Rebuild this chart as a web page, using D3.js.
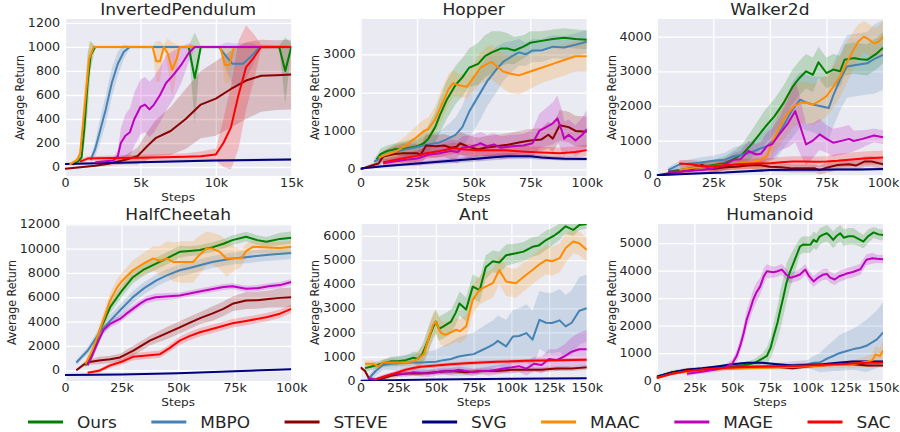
<!DOCTYPE html>
<html>
<head>
<meta charset="utf-8">
<script src="https://cdnjs.cloudflare.com/ajax/libs/d3/7.8.5/d3.min.js"></script>
<style>
  body { margin: 0; background: #fff; }
  text { font-family: "DejaVu Sans", sans-serif; fill: #262626; }
</style>
</head>
<body>
<script>
// methods, in legend order
var methods = ["Ours", "MBPO", "STEVE", "SVG", "MAAC", "MAGE", "SAC"];
var colors = ["#008000", "#4682b4", "#8b0000", "#000080", "#ff8c00", "#bf00bf", "#ff0000"];

// each series: [steps (k), mean return, spread]
// --- InvertedPendulum
var pendOurs = [[0.5,20,10],[0.9,50,20],[1.1,80,30],[1.3,350,150],[1.5,700,250],[1.7,930,120],[2.0,1000,10],[8.2,1000,10],[8.6,740,380],[9.0,1000,10],[14.2,1000,10],[14.6,800,280],[15,1000,30]];
var pendMbpo = [[1.7,60,20],[2.0,150,60],[2.3,290,100],[2.7,480,120],[3.1,700,120],[3.5,860,100],[3.9,960,60],[4.3,1000,10],[10.2,1000,10],[10.7,920,120],[11.1,860,170],[11.8,860,170],[12.4,930,100],[12.9,1000,10],[15,1000,10]];
var pendSteve = [[0,-15,5],[2,10,10],[3,30,20],[4,60,40],[4.8,90,70],[5.5,180,120],[6,240,150],[7,300,200],[8,400,250],[9,520,280],[10,570,310],[11,650,320],[12,720,320],[13,760,300],[14,765,290],[15,770,290]];
var pendSvg = [[0,25,8],[5,40,8],[10,55,10],[15,62,10]];
var pendMaac = [[0.3,20,10],[0.8,60,20],[1.0,110,40],[1.3,500,200],[1.6,900,150],[1.9,1000,10],[5.8,1000,10],[6.05,880,170],[6.3,880,170],[6.55,1000,20],[6.8,950,120],[7.1,810,230],[7.4,900,120],[7.6,1000,10],[10.3,1000,10],[10.6,850,150],[10.9,850,150],[11.2,1000,10],[15,1000,10]];
var pendMage = [[2.0,40,10],[3.2,55,20],[3.5,90,50],[3.7,200,120],[4.0,260,180],[4.3,290,200],[4.6,400,220],[5.0,500,230],[5.3,520,230],[5.6,480,230],[5.9,520,230],[6.3,600,230],[6.7,700,230],[7.2,770,200],[7.7,850,150],[8.2,950,80],[8.6,1000,10],[15,1000,10]];
var pendSac = [[1.0,45,20],[1.5,70,20],[3,75,20],[5,78,25],[8,85,30],[9,90,40],[10,105,50],[10.5,200,200],[11,330,350],[11.5,600,450],[12,830,350],[12.5,910,200],[13,1000,20],[15,1000,10]];

// --- Hopper
var hopOurs = [[7,250,100],[9,400,150],[12,480,150],[15,520,150],[20,540,200],[25,600,250],[28,680,300],[30,800,350],[33,1100,400],[35,1400,450],[38,1800,500],[42,2200,500],[45,2400,500],[48,2650,500],[52,2750,550],[55,2950,550],[58,3050,550],[62,3150,450],[65,3150,400],[68,3100,350],[72,3200,300],[75,3300,300],[80,3350,250],[85,3400,250],[90,3430,250],[95,3400,250],[100,3380,250]];
var hopMbpo = [[6,200,100],[10,330,150],[15,450,200],[20,520,200],[25,580,200],[30,650,250],[35,700,300],[38,780,350],[42,900,450],[45,1100,550],[48,1500,650],[50,1700,700],[53,2000,700],[56,2300,650],[60,2600,600],[63,2800,500],[67,2950,400],[70,3050,350],[73,3000,300],[76,3100,300],[80,3100,300],[85,3200,300],[90,3180,300],[95,3250,300],[100,3330,300]];
var hopSteve = [[0,0,20],[5,100,50],[8,150,100],[10,330,150],[15,400,200],[19,420,250],[25,420,250],[26.5,370,250],[29,620,300],[33,600,300],[37,620,300],[40,560,300],[42.5,590,300],[44,680,300],[48,580,300],[52,520,300],[55,560,300],[60,600,300],[65,640,300],[70,700,300],[75,750,300],[80,780,300],[83,900,350],[85,800,350],[88,1150,400],[92,1100,400],[95,1000,400],[100,980,400]];
var hopSvg = [[0,20,20],[10,80,30],[25,150,40],[40,220,60],[50,270,70],[60,320,80],[65,340,80],[75,340,70],[80,310,60],[85,290,50],[90,275,50],[100,270,50]];
var hopMaac = [[8,300,100],[10,350,120],[15,450,200],[20,620,250],[25,850,300],[28,1000,300],[30,1050,300],[33,1300,350],[36,1700,400],[39,2100,400],[41,2250,350],[43,2200,300],[47,2150,300],[50,2400,350],[53,2650,400],[56,2750,450],[58,2800,450],[60,2700,450],[63,2550,450],[66,2500,500],[70,2450,500],[75,2550,450],[80,2650,400],[85,2750,400],[90,2850,400],[95,2950,400],[100,2950,400]];
var hopMage = [[10,160,100],[15,200,100],[20,250,150],[25,280,200],[30,380,250],[35,420,250],[40,480,300],[43,450,300],[45,560,300],[48.5,590,300],[52,650,300],[53,680,300],[56,600,300],[59,650,300],[62,560,300],[67,600,300],[72,620,300],[76,680,350],[79,1000,450],[82,1100,500],[85,1200,550],[87,1330,600],[89,1000,550],[90,800,450],[92,900,400],[95,750,400],[98,900,450],[100,1050,500]];
var hopSac = [[10,180,80],[15,240,100],[20,300,120],[25,350,150],[29,420,150],[35,480,150],[41,550,150],[45,520,150],[50,500,150],[55,500,150],[63,500,150],[68,480,150],[73,460,150],[80,440,150],[88,420,150],[95,450,150],[100,500,150]];

// --- Walker2d
var walkOurs = [[5,100,50],[10,150,80],[15,200,100],[20,250,120],[25,300,150],[30,350,200],[35,500,250],[38,620,300],[42,900,400],[45,1150,450],[48,1400,500],[52,1700,500],[56,2080,500],[60,2550,500],[63,2800,500],[66,3000,500],[69,2900,500],[71.5,3260,450],[75,2950,450],[78,3050,450],[81,3000,450],[83,3330,450],[87,3380,450],[90,3350,450],[93,3330,450],[97,3500,450],[100,3680,450]];
var walkMbpo = [[5,150,80],[10,310,100],[15,340,120],[19,360,150],[25,420,150],[30,450,200],[34,550,250],[40,620,300],[45,750,400],[48.7,840,500],[53,1100,600],[57.5,1600,700],[60,1900,800],[63.4,2180,800],[66,2100,800],[69,2040,800],[72,2000,850],[76,1940,900],[78,2300,900],[81,2760,900],[84,3140,900],[88,3180,900],[93,3230,900],[96,3350,1000],[100,3470,1000]];
var walkSteve = [[0,0,20],[5,50,40],[10,100,60],[15,150,80],[18,250,100],[20,300,100],[23,200,100],[25,180,100],[30,230,100],[35,250,100],[40,280,100],[45,300,120],[50,250,120],[55,230,120],[60,200,120],[65,200,120],[70,200,120],[72,150,120],[75,220,150],[80,300,150],[85,320,150],[88,280,150],[92,400,150],[95,400,150],[100,320,150]];
var walkSvg = [[0,0,10],[10,30,20],[20,60,30],[30,80,30],[40,120,40],[50,150,40],[60,160,40],[70,160,40],[80,170,40],[90,170,40],[100,180,40]];
var walkMaac = [[10,150,80],[15,200,100],[20,250,120],[25,270,150],[30,300,150],[35,330,150],[40,360,200],[45,420,250],[48.7,555,300],[51.6,1030,400],[54.6,1420,550],[57.5,1750,600],[60.5,1990,600],[63.4,2090,600],[66,2100,600],[69,2040,600],[72,2150,600],[75,2280,600],[78,2550,600],[81,2850,600],[84,3250,600],[87,3620,550],[89,3850,500],[91.5,4000,450],[93,3950,450],[96,3810,450],[98,3850,450],[100,4000,450]];
var walkMage = [[5,100,50],[10,100,60],[15,130,80],[20,150,100],[25,200,120],[30,300,150],[34,450,200],[37,460,250],[40.5,700,300],[44,600,300],[46,620,350],[48.7,840,400],[51,900,450],[54.6,1220,500],[58,1500,700],[61.2,1850,900],[63.5,1400,800],[66,890,600],[69,1000,500],[72,1180,450],[75,1050,400],[78,940,400],[82,1000,400],[85,1050,400],[87,990,300],[91,1050,250],[96,1150,200],[100,1100,200]];
var walkSac = [[10,340,100],[15,320,120],[20,260,150],[25,260,150],[30,290,150],[35,310,150],[40,330,150],[45,340,150],[50,350,150],[55,380,150],[60,400,150],[65,400,150],[70,390,150],[75,400,150],[80,420,200],[85,450,200],[90,480,200],[95,500,200],[100,510,200]];

// --- HalfCheetah
var cheOurs = [[9,400,200],[12,1300,300],[15.4,3250,400],[20,5200,500],[25,6500,500],[30,7650,500],[35,8300,500],[40,8750,500],[45,9200,500],[50.7,9740,500],[55,9800,400],[59.6,9880,400],[62,10000,400],[65,10100,400],[70,10400,400],[74,10700,400],[80,10980,400],[85,10700,400],[89,10560,400],[95,10800,500],[100,10900,500]];
var cheMbpo = [[5,630,200],[10,1600,300],[15.4,3120,400],[20,4080,500],[25,5050,500],[30,6010,500],[35,6750,500],[40.4,7390,500],[45,7800,500],[50.7,8220,500],[55,8400,500],[59.6,8630,500],[65,8900,500],[74,9190,500],[80,9300,500],[90,9500,500],[100,9650,500]];
var cheSteve = [[5,0,100],[9.5,630,200],[15,800,300],[20,900,300],[24.3,1050,300],[30,1600,400],[37.5,2430,400],[45,3050,500],[50.7,3530,500],[55,3900,500],[60,4300,500],[65,4650,600],[70,5050,600],[74,5460,600],[80,5740,700],[85,5750,700],[90,5850,700],[95,5950,800],[100,6010,800]];
var cheSvg = [[0,-400,50],[25,-350,50],[50,-250,50],[75,-80,50],[100,80,60]];
var cheMaac = [[9,500,300],[12,1600,400],[15,3100,500],[18,4700,600],[19.9,5740,600],[23,6800,700],[25,7300,700],[30,8220,800],[35,8800,900],[39,9190,1000],[42,9000,1200],[45,9200,1400],[47.8,8910,1600],[51.5,8900,1700],[56.6,8900,1700],[59,9400,1600],[62.5,10010,1400],[65,10000,1300],[68.4,9730,1400],[71.3,9190,1500],[75,9200,1000],[78,9200,700],[80,9800,600],[83,10150,500],[90,10100,500],[95,10050,500],[100,10150,500]];
var cheMage = [[10,400,200],[12,1200,300],[15,2500,300],[17,3300,300],[19.9,3810,300],[24.3,4220,300],[27,4630,300],[33,5460,300],[36,5800,300],[40,6000,300],[50.7,6150,250],[60,6500,250],[70,6850,250],[74,6900,250],[80,6700,250],[85,6750,250],[90,6900,250],[95,7000,250],[100,7250,250]];
var cheSac = [[10,-200,100],[15,-50,150],[20,400,200],[25,700,250],[30,1100,300],[35,1200,300],[42,1320,300],[46,1800,300],[50.7,2430,350],[55,2800,350],[59.6,3120,350],[67,3500,350],[74,3860,350],[80,4050,350],[89,4360,350],[95,4650,350],[100,5050,350]];

// --- Ant
var antOurs = [[3,520,150],[8,600,150],[15,720,150],[20,800,200],[25,800,200],[30,850,200],[35,950,250],[38,900,300],[41,1100,400],[45,1700,500],[48,2200,500],[50,2450,500],[52,2150,500],[55,2250,500],[60,2450,500],[63,2800,500],[65.6,3200,500],[70,2950,500],[74.4,3900,500],[79,3750,500],[83,4700,500],[87.7,4950,450],[92,4900,450],[96.5,5200,450],[103,5280,400],[108,5350,400],[114,5550,400],[118,5600,400],[123,5830,400],[128,6000,350],[132,6180,350],[136,6400,300],[141,6250,250],[145,6450,200],[150,6500,200]];
var antMbpo = [[5,50,100],[10,400,200],[15,650,200],[20,700,250],[25,720,300],[30,750,300],[40,750,400],[50,780,500],[55,850,600],[60,900,700],[65,1000,800],[70,1050,850],[75,1100,900],[80,1250,950],[85,1400,1000],[88,1500,1000],[91,1650,1050],[96.5,1420,1100],[101,1830,1100],[105,1850,1150],[110,1970,1200],[114,1700,1200],[118.6,2520,1200],[123,2400,1250],[127,2390,1250],[132,2500,1300],[136,2250,1300],[140,2400,1350],[145,2900,1400],[150,3000,1400]];
var antSteve = [[0,550,50],[3,400,80],[6,50,100],[10,0,100],[15,100,100],[20,200,100],[25,250,100],[30,300,100],[40,300,100],[50,350,100],[60,400,100],[70,350,100],[80,400,100],[90,400,100],[100,450,100],[110,450,100],[120,450,100],[130,500,100],[140,500,100],[150,550,100]];
var antSvg = [[0,0,20],[50,50,20],[100,80,20],[150,100,20]];
var antMaac = [[3,700,150],[8,700,150],[12,600,150],[15,750,150],[20,750,150],[25,750,150],[30,750,150],[35,800,200],[38,900,300],[42,1100,400],[45,1700,500],[48,2300,500],[50,2450,500],[53,2000,500],[56,1900,500],[60,2000,500],[63.4,2110,500],[66,2050,500],[70,2250,500],[74.4,3350,600],[79,3770,600],[83,3900,600],[87.7,4040,600],[92,4590,600],[96.5,4110,600],[103,4040,600],[108,4300,600],[114,4590,600],[118,4800,600],[123,5000,600],[127,4950,600],[132,5080,600],[136,5500,600],[141,5770,500],[145,5700,500],[150,5420,500]];
var antMage = [[5,100,80],[10,50,80],[15,150,100],[20,250,100],[25,300,120],[30,280,120],[35,350,150],[40,320,150],[45,300,150],[50,350,150],[55,400,150],[60,380,150],[65,450,150],[70,400,150],[75,350,150],[80,400,150],[85,400,200],[90,450,200],[95,500,200],[100,550,250],[105,600,250],[110,500,300],[115,700,300],[120,650,350],[125,900,400],[130,850,450],[135,1000,500],[140,1200,600],[145,1300,700],[150,1300,800]];
var antSac = [[10,50,50],[15,150,60],[20,250,70],[25,350,80],[30,450,80],[35,520,80],[40,580,80],[50,630,80],[60,680,80],[70,720,80],[80,750,80],[90,780,80],[100,800,80],[110,820,80],[120,840,80],[130,850,80],[140,860,80],[150,870,80]];

// --- Humanoid
var humOurs = [[0,150,50],[10,300,80],[20,380,80],[30,430,80],[40,480,80],[50,520,100],[60,580,100],[65,650,150],[70,800,200],[73,900,300],[75.5,1200,400],[77.4,1600,500],[80,2100,600],[82,2590,700],[84,3050,700],[86,3550,700],[88,3900,600],[90.7,4280,500],[93,4600,400],[95,4880,300],[97,4950,300],[99.5,4940,300],[102,4950,300],[104,5120,300],[106,5050,300],[108,5240,300],[110,5300,300],[112.8,5360,300],[115,5250,300],[117,5120,300],[119,5250,300],[121.7,5360,300],[124,5200,300],[127,5250,300],[130.5,5250,300],[134,5150,250],[137,5060,250],[140,5250,250],[143.8,5390,200],[147,5320,200],[150,5300,200]];
var humMbpo = [[0,150,50],[20,350,50],[40,450,60],[60,500,80],[80,550,100],[100,600,150],[104,650,250],[108,660,350],[112,780,450],[117,900,550],[121,1000,650],[126,1080,700],[130.5,1150,750],[135,1200,850],[139,1270,950],[146,1500,1050],[150,1750,1100]];
var humSteve = [[0,100,50],[10,300,50],[20,400,60],[40,450,60],[60,500,60],[80,500,60],[90,450,60],[100,520,60],[120,600,60],[130,600,60],[140,550,60],[150,550,60]];
var humSvg = [[0,150,30],[10,300,30],[20,400,30],[30,450,30],[40,520,30],[50,600,30],[60,650,40],[70,650,40],[80,600,40],[90,550,40],[100,580,40],[110,600,40],[120,650,40],[130,700,40],[140,700,40],[150,700,40]];
var humMaac = [[0,100,50],[10,250,50],[30,400,50],[60,450,60],[90,500,80],[110,550,100],[130,600,150],[140,700,200],[143,750,250],[145,950,300],[148,900,300],[150,1100,350]];
var humMage = [[20,250,80],[30,330,80],[40,420,100],[45,480,100],[50,620,150],[53,900,200],[55.3,1265,250],[57.5,1700,300],[59.7,2230,350],[62,2600,350],[64,2950,350],[66,3200,350],[68.6,3430,300],[71,3800,300],[73,3980,250],[77.4,3940,200],[80,3980,200],[83,4040,200],[86,3850,200],[88.5,3740,200],[92,3800,200],[95,3860,200],[98.5,4040,200],[101,3800,200],[104,3610,200],[107,3750,200],[110,3850,200],[112.8,3880,200],[115,3750,200],[118,3680,200],[121,3800,200],[124,3850,200],[126,3900,200],[130,3950,200],[135,4050,200],[139,4400,200],[143,4450,200],[146,4430,150],[150,4420,150]];
var humSac = [[0,100,50],[10,250,50],[20,350,50],[40,450,60],[60,500,60],[80,520,60],[100,550,60],[120,600,60],[140,650,60],[150,650,60]];

// axis ranges and ticks
var xTicks100 = [0, 25, 50, 75, 100];
var xTicks150 = [0, 25, 50, 75, 100, 125, 150];
var panels = [
  {title: "InvertedPendulum", xMax: 15, xTicks: [0, 5, 10, 15], yRange: [-75, 1233], yTicks: [0, 200, 400, 600, 800, 1000, 1200],
   series: [pendOurs, pendMbpo, pendSteve, pendSvg, pendMaac, pendMage, pendSac]},
  {title: "Hopper", xMax: 100, xTicks: xTicks100, yRange: [-175, 3921], yTicks: [0, 1000, 2000, 3000],
   series: [hopOurs, hopMbpo, hopSteve, hopSvg, hopMaac, hopMage, hopSac]},
  {title: "Walker2d", xMax: 100, xTicks: xTicks100, yRange: [-20, 4508], yTicks: [0, 1000, 2000, 3000, 4000],
   series: [walkOurs, walkMbpo, walkSteve, walkSvg, walkMaac, walkMage, walkSac]},
  {title: "HalfCheetah", xMax: 100, xTicks: xTicks100, yRange: [-886, 12025], yTicks: [0, 2000, 4000, 6000, 8000, 10000, 12000],
   series: [cheOurs, cheMbpo, cheSteve, cheSvg, cheMaac, cheMage, cheSac]},
  {title: "Ant", xMax: 150, xTicks: xTicks150, yRange: [-15, 6496], yTicks: [0, 1000, 2000, 3000, 4000, 5000, 6000],
   series: [antOurs, antMbpo, antSteve, antSvg, antMaac, antMage, antSac]},
  {title: "Humanoid", xMax: 150, xTicks: xTicks150, yRange: [-10, 5697], yTicks: [0, 1000, 2000, 3000, 4000, 5000],
   series: [humOurs, humMbpo, humSteve, humSvg, humMaac, humMage, humSac]}
];

var width = 900, height = 432;
var colX = [65, 360.5, 656.7], rowY = [19, 224];
var W = 226.3, H = 157;
var SX = 1.1; // text in the reference is slightly wider than tall

var svg = d3.select("body").append("svg")
    .attr("width", width).attr("height", height);

function stretchText(sel) {
  sel.selectAll("text").each(function() {
    var t = d3.select(this);
    t.attr("x", (+t.attr("x") || 0) / SX).attr("transform", "scale(" + SX + ",1)");
  });
}

panels.forEach(function(p, i) {
  var left = colX[i % 3], top = rowY[Math.floor(i / 3)];
  var g = svg.append("g").attr("transform", "translate(" + left + "," + top + ")");
  var x = d3.scaleLinear().domain([0, p.xMax]).range([0, W]);
  var y = d3.scaleLinear().domain(p.yRange).range([H, 0]);

  g.append("rect").attr("width", W).attr("height", H).attr("fill", "#eaeaf2");

  // y axis with grid
  var ya = g.append("g")
      .call(d3.axisLeft(y).tickValues(p.yTicks).tickSize(-W).tickPadding(5).tickFormat(d3.format("d")));
  // x axis with grid
  var xa = g.append("g").attr("transform", "translate(0," + H + ")")
      .call(d3.axisBottom(x).tickValues(p.xTicks).tickSize(-H).tickPadding(3)
        .tickFormat(function(d) { return d === 0 ? "0" : d + "k"; }));
  [ya, xa].forEach(function(a) {
    a.select(".domain").remove();
    a.attr("font-size", 11.5).attr("font-family", "DejaVu Sans, sans-serif");
    a.selectAll("line").attr("stroke", "#fff").attr("stroke-width", 1.3);
    a.selectAll("text").attr("fill", "#262626");
    stretchText(a);
  });

  var clipId = "clip" + i;
  g.append("clipPath").attr("id", clipId).append("rect").attr("width", W).attr("height", H);
  var plot = g.append("g").attr("clip-path", "url(#" + clipId + ")");

  var area = d3.area()
      .x(function(d) { return x(d[0]); })
      .y0(function(d) { return y(d[1] - d[2]); })
      .y1(function(d) { return y(d[1] + d[2]); });
  var line = d3.line()
      .x(function(d) { return x(d[0]); })
      .y(function(d) { return y(d[1]); });

  p.series.forEach(function(s, k) {
    plot.append("path").attr("d", area(s)).attr("fill", colors[k]).attr("fill-opacity", 0.2);
  });
  p.series.forEach(function(s, k) {
    plot.append("path").attr("d", line(s)).attr("fill", "none")
        .attr("stroke", colors[k]).attr("stroke-width", 2).attr("stroke-linejoin", "round");
  });

  // title
  g.append("text").attr("transform", "translate(" + W / 2 + ",-4) scale(" + SX + ",1)")
      .attr("text-anchor", "middle").attr("font-size", 15.5).text(p.title);
  // x label
  g.append("text").attr("transform", "translate(" + W / 2 + "," + (H + 24.5) + ") scale(" + SX + ",1)")
      .attr("text-anchor", "middle").attr("font-size", 11).text("Steps");
  // y label, placed left of the tick labels
  var bb = ya.node().getBBox();
  g.append("text").attr("transform", "translate(" + (bb.x - 4) + "," + H / 2 + ") scale(" + SX + ",1) rotate(-90)")
      .attr("text-anchor", "middle").attr("font-size", 11).text("Average Return");
});

// legend
var lg = svg.append("g").attr("transform", "translate(0,422)");
var lx = 28;
methods.forEach(function(m, k) {
  lg.append("line").attr("x1", lx).attr("x2", lx + 35).attr("y1", 0).attr("y2", 0)
      .attr("stroke", colors[k]).attr("stroke-width", 3);
  var t = lg.append("text").attr("transform", "translate(" + (lx + 49) + ",0) scale(" + SX + ",1)")
      .attr("dy", "0.36em").attr("font-size", 15.4).text(m);
  lx += 49 + t.node().getComputedTextLength() * SX + 34.5;
});
</script>
</body>
</html>
